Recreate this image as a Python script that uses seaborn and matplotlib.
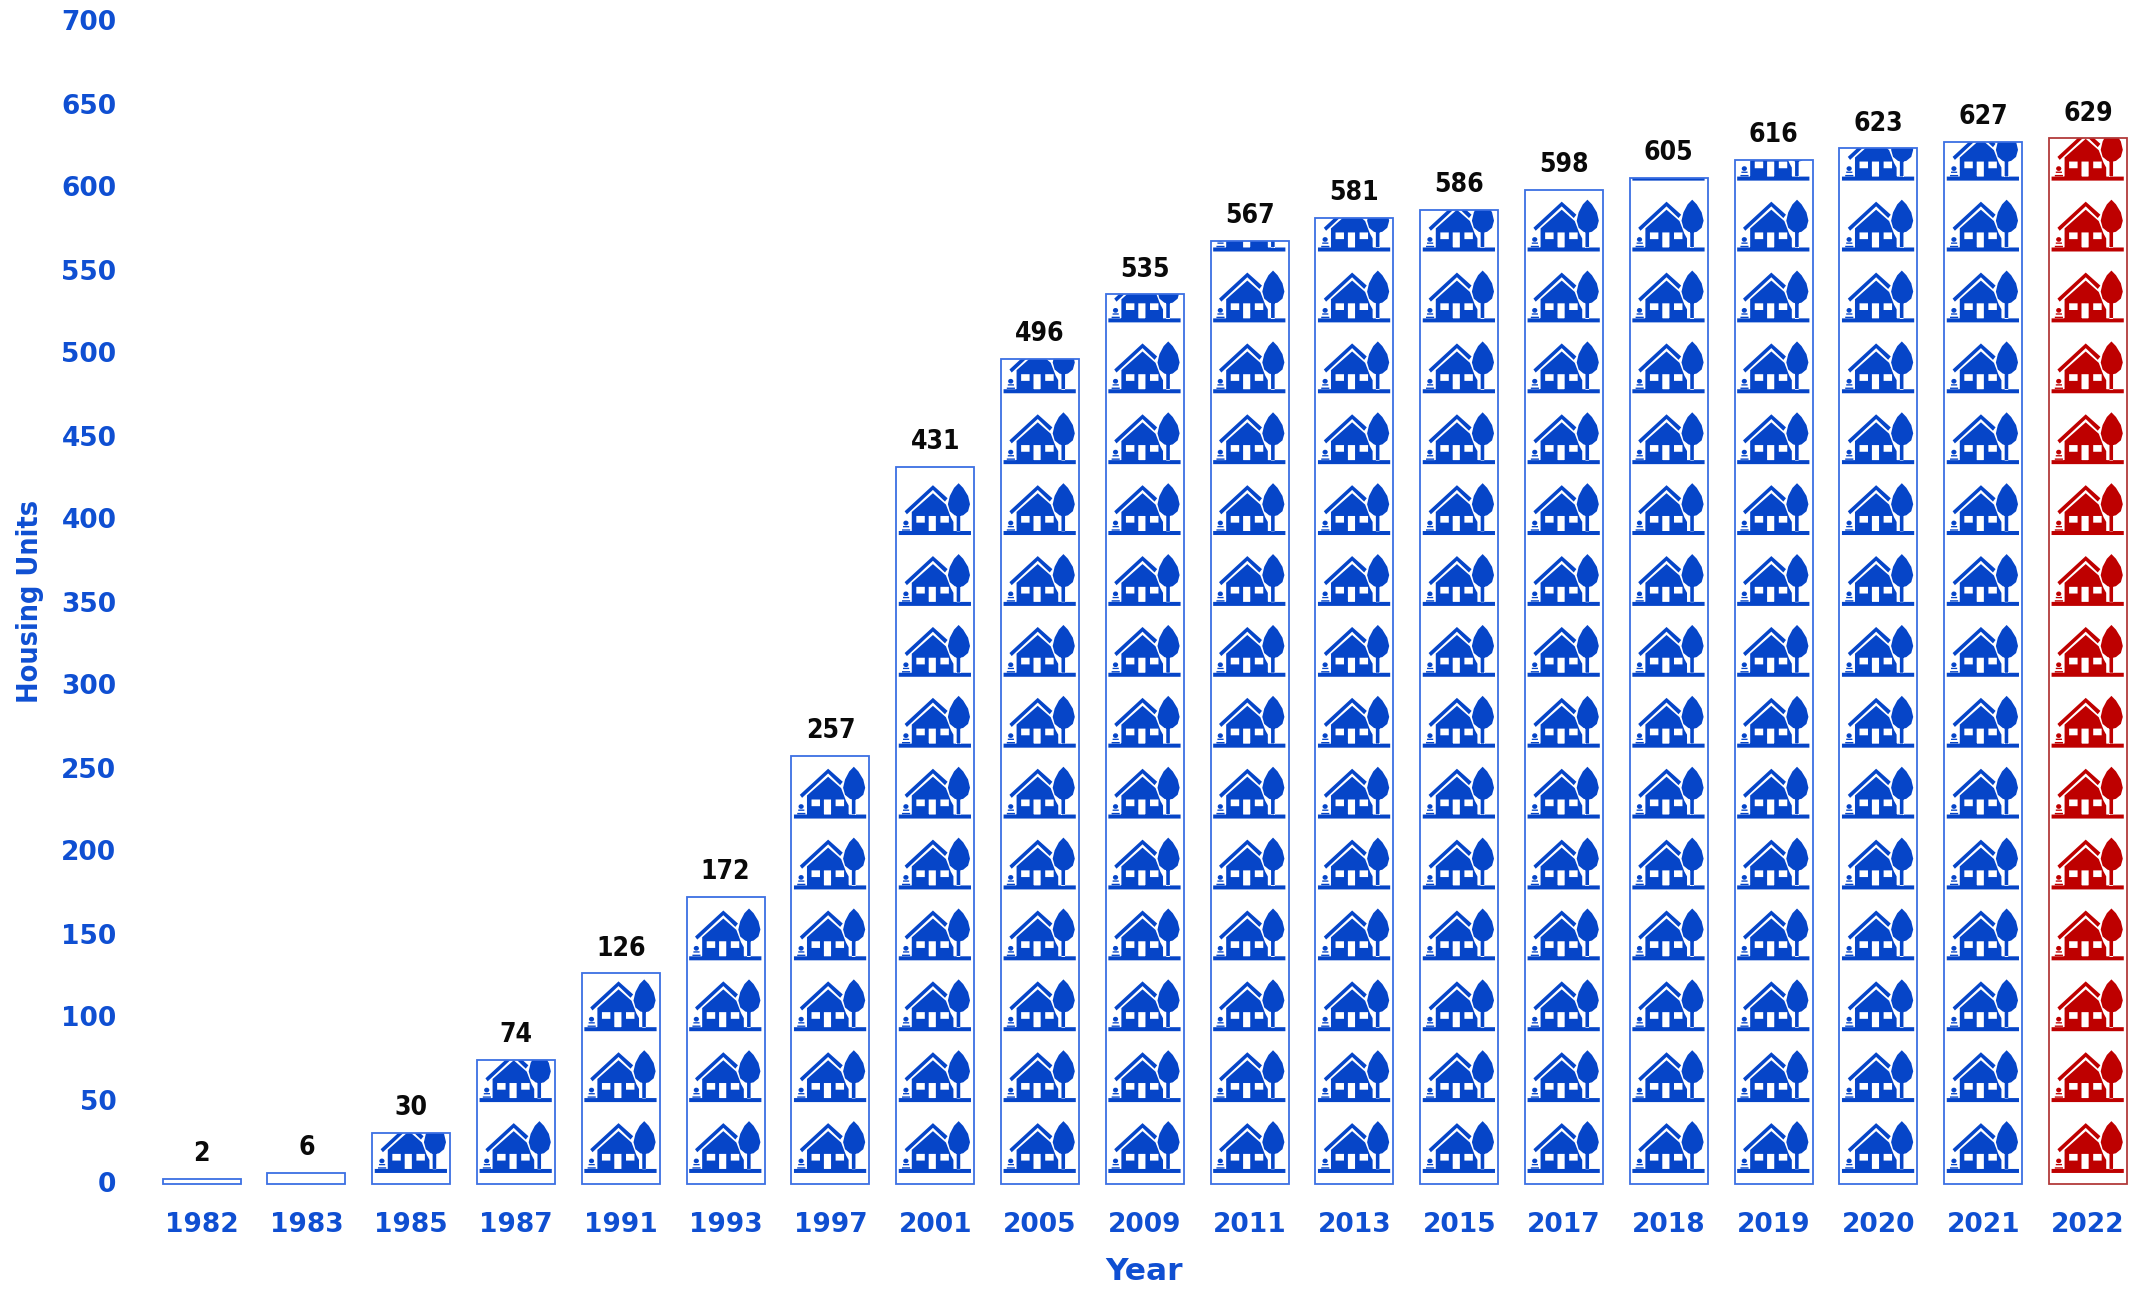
import math
import matplotlib
matplotlib.use("Agg")
import matplotlib.pyplot as plt
import numpy as np
import pandas as pd
import seaborn as sns
from matplotlib.path import Path
from matplotlib.patches import PathPatch, Rectangle
from matplotlib.transforms import Affine2D

years = ["1982","1983","1985","1987","1991","1993","1997","2001","2005","2009",
         "2011","2013","2015","2017","2018","2019","2020","2021","2022"]
units = [2,6,30,74,126,172,257,431,496,535,567,581,586,598,605,616,623,627,629]
highlight_year = "2022"
y_ticks = list(range(0, 701, 50))

BLUE = "#0645C8"
EDGE_BLUE = "#3B6FE3"
RED = "#BE0000"
EDGE_RED = "#B23A3A"
TEXT_BLUE = "#0F4FD2"
TILE_UNITS = 42.7
BASE_OVERHANG = 0.9

W, H = 2136, 1289
sns.set_theme(style="white")
plt.rcParams["font.family"] = ["DejaVu Sans"]
fig = plt.figure(figsize=(W/100, H/100), dpi=100)
ax = fig.add_axes([140/W, 1-1182.5/H, (W-140)/W, (1182.5-20.5)/H])

df = pd.DataFrame({"Year": years, "Units": units})
df["Group"] = np.where(df["Year"] == highlight_year, "now", "past")
sns.barplot(data=df, x="Year", y="Units", hue="Group", order=years,
            palette={"past": EDGE_BLUE, "now": EDGE_RED}, hue_order=["past", "now"],
            dodge=False, fill=False, width=0.745, linewidth=1.3, saturation=1,
            legend=False, ax=ax, zorder=3, errorbar=None)

def poly(pts):
    return [(Path.MOVETO, pts[0])] + [(Path.LINETO, p) for p in pts[1:]] + [(Path.CLOSEPOLY, pts[0])]

def rect(x0, y0, x1, y1, hole=False):
    pts = [(x0,y0),(x1,y0),(x1,y1),(x0,y1)]
    return poly(pts[::-1] if not hole else pts)

def circle_segs(cx, cy, rx, ry):
    c = Path.unit_circle()
    return [(code, (cx+rx*v[0], cy+ry*v[1])) for v, code in zip(c.vertices, c.codes)]

# Pictogram, in a 240 x 212 glyph box
segs = []
segs += rect(8, 33, 230, 45)                                            # ground
segs += poly([(48,44),(48,102),(113,158),(153,124),(168,86),(176,72),(176,44)])  # house
segs += rect(62,70,88,90,True) + rect(136,70,162,90,True) + rect(100,44,122,90,True)
segs += poly([(26,104),(113,182),(158,143),(150,133),(113,168),(33,95)])  # roof
segs += poly([(186,44),(197,44),(197,96),(186,96)])                     # trunk
segs += poly([(192,188),(178,174),(165,150),(159,125),(165,104),(180,92),(192,89),
              (206,92),(221,104),(227,125),(221,150),(206,174)])        # crown
segs += circle_segs(30, 69, 8, 7)
segs += rect(21, 56, 40, 60) + rect(18, 46, 43, 50)
icon = Path([s[1] for s in segs], [s[0] for s in segs])

for p in ax.patches:
    h = p.get_height()
    if not h or h <= 0:
        continue
    x, w = p.get_x(), p.get_width()
    idx = int(round(x + w/2))
    p.set_y(-BASE_OVERHANG)
    p.set_height(h + BASE_OVERHANG)
    p.set_clip_on(False)
    color = RED if years[idx] == highlight_year else BLUE
    clip = Rectangle((x, -BASE_OVERHANG), w, h + BASE_OVERHANG, transform=ax.transData)
    for k in range(math.ceil(h / TILE_UNITS)):
        tf = Affine2D().scale(w/240, TILE_UNITS/212).translate(x, k*TILE_UNITS - BASE_OVERHANG)
        tile = PathPatch(icon.transformed(tf), facecolor=color, edgecolor="none", zorder=2,
                         clip_on=True)
        ax.add_patch(tile)
        tile.set_clip_path(clip)
    ax.annotate(str(units[idx]), (idx, h), xytext=(0, 8.5), textcoords="offset points",
                ha="center", va="bottom", fontsize=19, fontstretch="condensed",
                fontweight="bold", color="#0a0a0a", zorder=4)

ax.set_xlim((140-201.6)/104.8, (W-201.6)/104.8)
ax.set_ylim(0, 700)
ax.set_yticks(y_ticks)
ax.tick_params(axis="both", length=0, labelcolor=TEXT_BLUE)
ax.tick_params(axis="y", pad=17, labelsize=19)
ax.tick_params(axis="x", pad=21, labelsize=19)
for t in ax.get_xticklabels() + ax.get_yticklabels():
    t.set_fontweight("bold")
for s in ax.spines.values():
    s.set_visible(False)
ax.patch.set_alpha(0)
ax.set_xlabel("")
ax.set_ylabel("")
fig.text(1144/W, 1-1271/H, "Year", ha="center", va="center", fontsize=22.5,
         fontweight="bold", color=TEXT_BLUE)
fig.text(30/W, 1-601/H, "Housing Units", ha="center", va="center", rotation=90,
         fontsize=20.6, fontstretch="condensed", fontweight="bold", color=TEXT_BLUE)
fig.savefig("out.png", dpi=100)
